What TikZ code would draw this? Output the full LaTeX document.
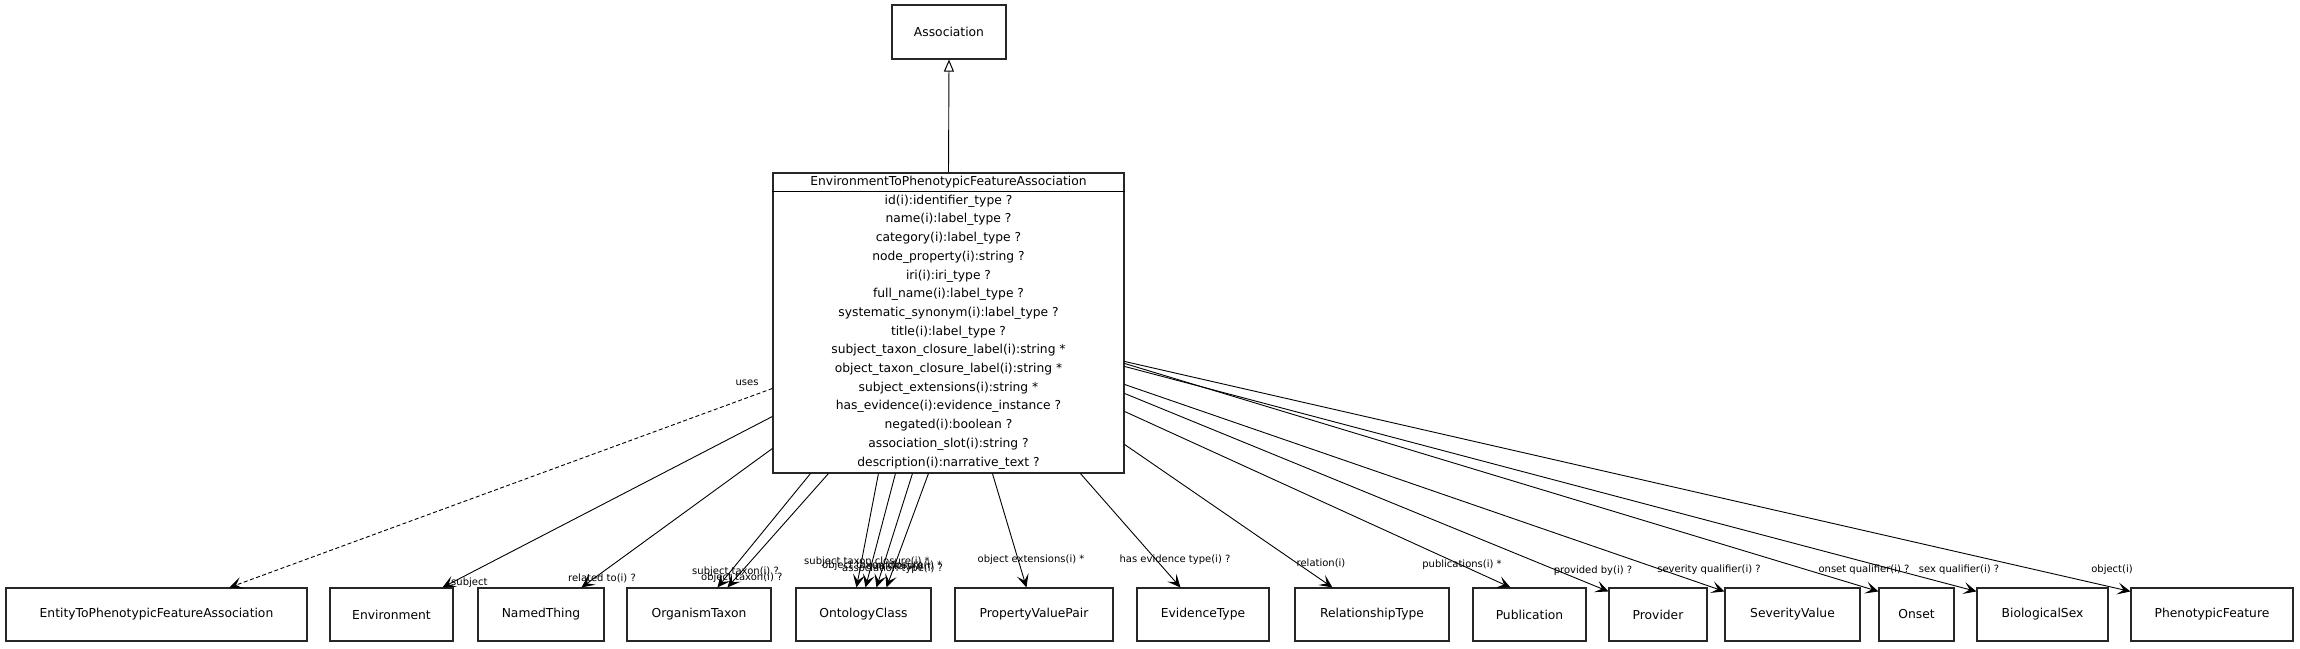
\documentclass[tikz,border=0pt]{standalone}
\usepackage{fontspec}
\setmainfont{DejaVu Sans}
\usetikzlibrary{arrows.meta,calc}
\begin{document}
\begin{tikzpicture}[x=1pt,y=-1pt,
  box/.style={draw=black!85,line width=1.1pt,minimum height=53pt,inner sep=0pt,font=\fontsize{12.3}{14}\selectfont},
  cls/.style={draw=black!85,line width=1.1pt,inner sep=0pt},
  sep/.style={draw=black,line width=1.1pt},
  attr/.style={font=\fontsize{12.3}{14}\selectfont,inner sep=0pt,anchor=center},
  elab/.style={font=\fontsize{10}{12}\selectfont,inner sep=0pt},
  rel/.style={line width=0.9pt,-{Stealth[length=13pt,width=12pt,inset=6pt]}},
  usesrel/.style={rel,dash pattern=on 4pt off 2.5pt},
  inh/.style={line width=0.9pt,-{Triangle[open,length=12pt,width=10pt,line width=1pt]}}]
\useasboundingbox (0,0) rectangle (2300,648);

% main class
\node[cls,minimum width=351pt,minimum height=300pt] (main) at (948.5,323) {};
\draw[sep] ($(main.north west)+(0,19)$) -- ($(main.north east)+(0,19)$);
\node[attr] (hdr) at (948.5,182) {EnvironmentToPhenotypicFeatureAssociation};
\foreach \t [count=\k from 0] in {
  id(i):identifier\_type ?,
  name(i):label\_type ?,
  category(i):label\_type ?,
  node\_property(i):string ?,
  iri(i):iri\_type ?,
  full\_name(i):label\_type ?,
  systematic\_synonym(i):label\_type ?,
  title(i):label\_type ?,
  subject\_taxon\_closure\_label(i):string *,
  object\_taxon\_closure\_label(i):string *,
  subject\_extensions(i):string *,
  has\_evidence(i):evidence\_instance ?,
  negated(i):boolean ?,
  association\_slot(i):string ?,
  description(i):narrative\_text ?}
  \node[attr] (a\k) at (948.5,{201+18.7*\k}) {\t};

% parent
\node[box,minimum width=114pt,minimum height=54pt] (assoc) at (949,32) {Association};
\draw[inh] (main.north) -- (assoc.south);

% targets
\node[box,minimum width=301pt] (e2p) at (156.5,614.5) {EntityToPhenotypicFeatureAssociation};
\node[box,minimum width=123pt] (env) at (391.5,614.5) {Environment};
\node[box,minimum width=126pt] (named) at (541,614.5) {NamedThing};
\node[box,minimum width=144pt] (org) at (699,614.5) {OrganismTaxon};
\node[box,minimum width=135pt] (onto) at (863.5,614.5) {OntologyClass};
\node[box,minimum width=158pt] (pvp) at (1034,614.5) {PropertyValuePair};
\node[box,minimum width=132pt] (evid) at (1203,614.5) {EvidenceType};
\node[box,minimum width=154pt] (reltype) at (1372,614.5) {RelationshipType};
\node[box,minimum width=113pt] (pub) at (1529.5,614.5) {Publication};
\node[box,minimum width=98pt] (prov) at (1658,614.5) {Provider};
\node[box,minimum width=135pt] (sev) at (1792.5,614.5) {SeverityValue};
\node[box,minimum width=75pt] (onset) at (1916.5,614.5) {Onset};
\node[box,minimum width=131pt] (sex) at (2042.5,614.5) {BiologicalSex};
\node[box,minimum width=162pt] (pf) at (2212,614.5) {PhenotypicFeature};

% connectors from left edge
\draw[usesrel] ($(main.north west)+(0,216)$) -- ($(e2p.north west)+(224,0)$);
\draw[rel] ($(main.north west)+(0,244)$) -- ($(env.north west)+(113,0)$);
\draw[rel] ($(main.north west)+(0,276)$) -- ($(named.north west)+(104,0)$);
% connectors from bottom edge
\draw[rel] ($(main.south west)+(38,0)$) -- ($(org.north west)+(91,0)$);
\draw[rel] ($(main.south west)+(56,0)$) -- ($(org.north west)+(101,0)$);
\draw[rel] ($(main.south west)+(106,0)$) -- ($(onto.north west)+(61,0)$);
\draw[rel] ($(main.south west)+(123,0)$) -- ($(onto.north west)+(70,0)$);
\draw[rel] ($(main.south west)+(140,0)$) -- ($(onto.north west)+(81,0)$);
\draw[rel] ($(main.south west)+(156,0)$) -- ($(onto.north west)+(91,0)$);
\draw[rel] ($(main.south west)+(220,0)$) -- ($(pvp.north west)+(72,0)$);
\draw[rel] ($(main.south west)+(308,0)$) -- ($(evid.north west)+(44,0)$);
% connectors from right edge
\draw[rel] ($(main.north east)+(0,272)$) -- ($(reltype.north west)+(38,0)$);
\draw[rel] ($(main.north east)+(0,239)$) -- ($(pub.north west)+(38,0)$);
\draw[rel] ($(main.north east)+(0,221)$) -- ($(prov.north west)+(0,4)$);
\draw[rel] ($(main.north east)+(0,212)$) -- ($(sev.north west)+(0,4)$);
\draw[rel] ($(main.north east)+(0,191)$) -- ($(onset.north west)+(0,4)$);
\draw[rel] ($(main.north east)+(0,194)$) -- ($(sex.north west)+(0,4)$);
\draw[rel] ($(main.north east)+(0,189)$) -- ($(pf.north west)+(0,4)$);

% labels
\node[elab] (luses) at (747,383) {uses};
\node[elab,anchor=west] (lsubj) at (451,583) {subject};
\node[elab] (lrel) at (602,578) {related to(i) ?};
\node[elab,anchor=west] (lst) at (692,572) {subject taxon(i) ?};
\node[elab,anchor=west] (lot) at (701,578) {object taxon(i) ?};
\node[elab,anchor=west] (lstc) at (804,562) {subject taxon closure(i) *};
\node[elab,anchor=west] (lotc) at (822,566) {object taxon closure(i) *};
\node[elab,anchor=west] (lat) at (842,569) {association type(i) ?};
\node[elab,anchor=west] (lq) at (866,567) {qualifiers(i) *};
\node[elab] (lext) at (1031,560) {object extensions(i) *};
\node[elab] (lev) at (1175,560) {has evidence type(i) ?};
\node[elab] (lrelation) at (1321,563) {relation(i)};
\node[elab] (lpub) at (1462,565) {publications(i) *};
\node[elab] (lprov) at (1593,571) {provided by(i) ?};
\node[elab] (lsev) at (1709,570) {severity qualifier(i) ?};
\node[elab] (lons) at (1864,570) {onset qualifier(i) ?};
\node[elab] (lsex) at (1959,570) {sex qualifier(i) ?};
\node[elab] (lobj) at (2112,570) {object(i)};
\end{tikzpicture}
\end{document}
